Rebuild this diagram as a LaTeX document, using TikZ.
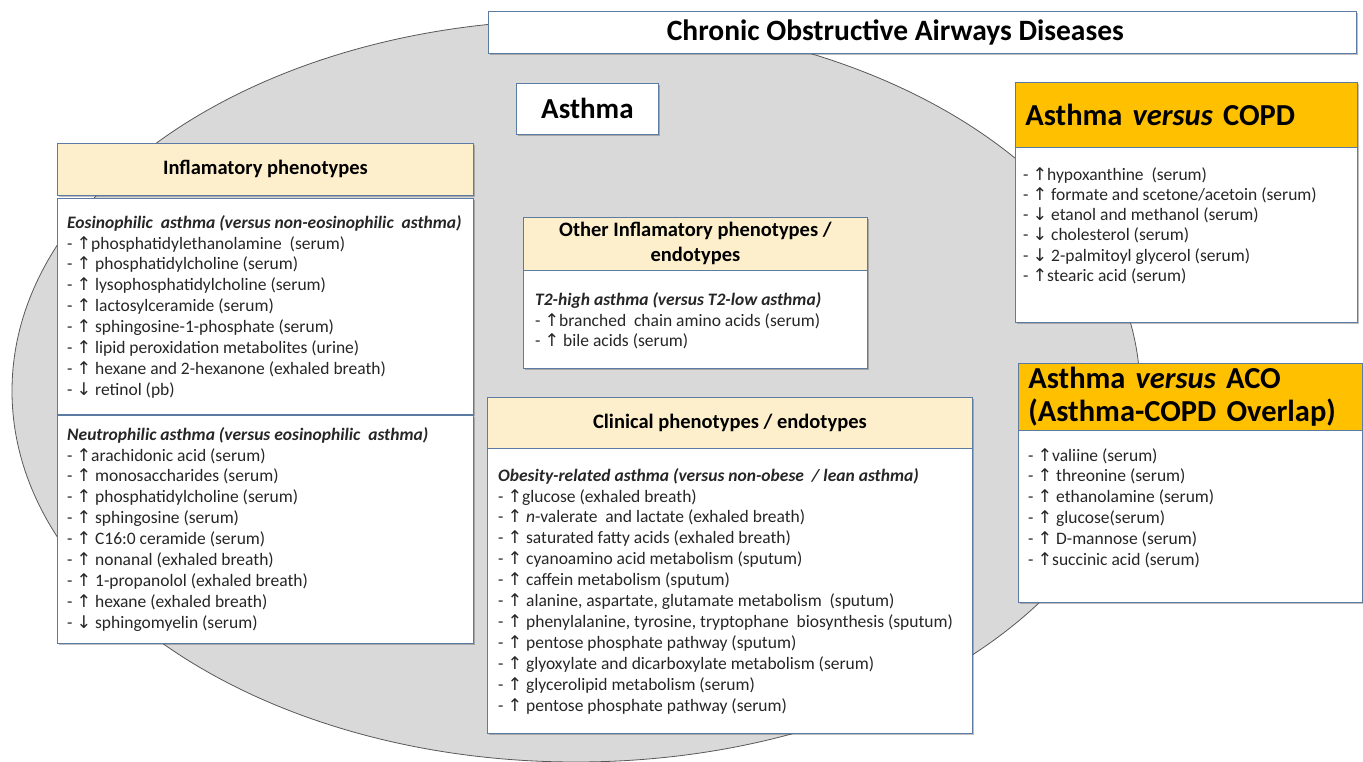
\documentclass[tikz,border=0pt]{standalone}
\usepackage{fontspec}
\setmainfont{Carlito}
\newfontfamily\arrowfont{DejaVu Sans}[Scale=1.0]
\usetikzlibrary{shadows}

\definecolor{boxline}{HTML}{5B7BA3}
\definecolor{hdrtan}{HTML}{FDEFCB}
\definecolor{copdorange}{HTML}{FFC000}
\definecolor{ovalgray}{HTML}{D9D9D9}
\definecolor{ovalline}{HTML}{595959}
\definecolor{txtgray}{HTML}{262626}

\newcommand{\uparr}{{\arrowfont ↑}}
\newcommand{\dnarr}{{\arrowfont ↓}}
\newcommand{\bi}[1]{\textbf{\textit{#1}}}

\begin{document}
\begin{tikzpicture}[x=1pt,y=-1pt,
    box/.style={draw=boxline,line width=0.8pt,fill=white,anchor=north west,inner sep=0pt,
      drop shadow={shadow xshift=2pt,shadow yshift=-2pt,opacity=0.35,fill=black!70}},
    hdr/.style={box,fill=hdrtan,align=center,font=\bfseries\fontsize{20.5}{25}\selectfont},
    ohdr/.style={box,fill=copdorange,inner xsep=10pt,align=left,font=\bfseries\fontsize{30.5}{33}\selectfont},
    lst/.style={anchor=north west,align=left,inner sep=0pt,text=txtgray,font=\fontsize{17.5}{20.9}\selectfont}]
  \useasboundingbox (0,0) rectangle (1363,762);
  \fill[white] (0,0) rectangle (1363,762);
  \draw[draw=ovalline,fill=ovalgray,line width=0.8pt] (576,391) ellipse [x radius=564pt,y radius=371pt];

  % titles
  \node[box,minimum width=868pt,minimum height=42pt,font=\bfseries\fontsize{29.5}{32}\selectfont] (title) at (488,11)
    {Chronic Obstructive Airways Diseases\hspace{54pt}\mbox{}};
  \node[box,minimum width=142pt,minimum height=51pt,font=\bfseries\fontsize{29}{32}\selectfont] (asthma) at (516,83) {Asthma};

  % inflamatory phenotypes
  \node[hdr,minimum width=416pt,minimum height=52pt] (infl) at (57,143) {Inflamatory phenotypes};
  \node[box,minimum width=416pt,minimum height=216pt] (eos) at (57,198) {};
  \node[lst] (eostxt) at ([shift={(10,17)}]eos.north west)
    {\bi{Eosinophilic~ asthma (versus non-eosinophilic~ asthma)}\\
     - \uparr phosphatidylethanolamine~ (serum)\\
     - \uparr\ phosphatidylcholine (serum)\\
     - \uparr\ lysophosphatidylcholine (serum)\\
     - \uparr\ lactosylceramide (serum)\\
     - \uparr\ sphingosine-1-phosphate (serum)\\
     - \uparr\ lipid peroxidation metabolites (urine)\\
     - \uparr\ hexane and 2-hexanone (exhaled breath)\\
     - \dnarr\ retinol (pb)};
  \node[box,minimum width=416pt,minimum height=228pt] (neu) at (57,415) {};
  \node[lst] (neutxt) at ([shift={(10,12)}]neu.north west)
    {\bi{Neutrophilic asthma (versus eosinophilic~ asthma)}\\
     - \uparr arachidonic acid (serum)\\
     - \uparr\ monosaccharides (serum)\\
     - \uparr\ phosphatidylcholine (serum)\\
     - \uparr\ sphingosine (serum)\\
     - \uparr\ C16:0 ceramide (serum)\\
     - \uparr\ nonanal (exhaled breath)\\
     - \uparr\ 1-propanolol (exhaled breath)\\
     - \uparr\ hexane (exhaled breath)\\
     - \dnarr\ sphingomyelin (serum)};

  % other phenotypes
  \node[hdr,minimum width=344pt,minimum height=53pt] (other) at (523,217) {Other Inflamatory phenotypes /\\endotypes};
  \node[box,minimum width=344pt,minimum height=98pt] (t2) at (523,270) {};
  \node[lst] (t2txt) at ([shift={(12,22)}]t2.north west)
    {\bi{T2-high asthma (versus T2-low asthma)}\\
     - \uparr branched~ chain amino acids (serum)\\
     - \uparr\ bile acids (serum)};

  % clinical phenotypes
  \node[hdr,minimum width=485pt,minimum height=51pt] (clin) at (487,397) {Clinical phenotypes / endotypes};
  \node[box,minimum width=485pt,minimum height=285pt] (obes) at (487,448) {};
  \node[lst] (obestxt) at ([shift={(11,20)}]obes.north west)
    {\bi{Obesity-related asthma (versus non-obese~ / lean asthma)}\\
     - \uparr glucose (exhaled breath)\\
     - \uparr\ \textit{n}-valerate~ and lactate (exhaled breath)\\
     - \uparr\ saturated fatty acids (exhaled breath)\\
     - \uparr\ cyanoamino acid metabolism (sputum)\\
     - \uparr\ caffein metabolism (sputum)\\
     - \uparr\ alanine, aspartate, glutamate metabolism~ (sputum)\\
     - \uparr\ phenylalanine, tyrosine, tryptophane~ biosynthesis (sputum)\\
     - \uparr\ pentose phosphate pathway (sputum)\\
     - \uparr\ glyoxylate and dicarboxylate metabolism (serum)\\
     - \uparr\ glycerolipid metabolism (serum)\\
     - \uparr\ pentose phosphate pathway (serum)};

  % asthma versus copd / aco
  \node[ohdr,minimum width=342pt,minimum height=65pt,text width=322pt] (vcopd) at (1015,82) {Asthma \textit{versus} COPD};
  \node[box,minimum width=342pt,minimum height=175pt] (copd) at (1015,147) {};
  \node[lst,font=\fontsize{17.5}{20.3}\selectfont] (copdtxt) at ([shift={(8,20)}]copd.north west)
    {- \uparr hypoxanthine~ (serum)\\
     - \uparr\ formate and scetone/acetoin (serum)\\
     - \dnarr\ etanol and methanol (serum)\\
     - \dnarr\ cholesterol (serum)\\
     - \dnarr\ 2-palmitoyl glycerol (serum)\\
     - \uparr stearic acid (serum)};
  \node[ohdr,minimum width=344pt,minimum height=67pt,text width=324pt] (vaco) at (1018,363) {Asthma \textit{versus} ACO\\(Asthma-COPD Overlap)};
  \node[box,minimum width=344pt,minimum height=172pt] (aco) at (1018,430) {};
  \node[lst] (acotxt) at ([shift={(10,18)}]aco.north west)
    {- \uparr valiine (serum)\\
     - \uparr\ threonine (serum)\\
     - \uparr\ ethanolamine (serum)\\
     - \uparr\ glucose(serum)\\
     - \uparr\ D-mannose (serum)\\
     - \uparr succinic acid (serum)};
\end{tikzpicture}
\end{document}
